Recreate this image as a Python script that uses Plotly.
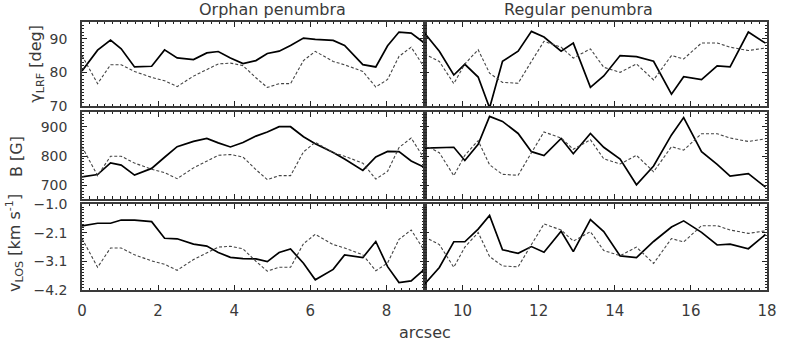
import plotly.graph_objects as go

# positions along the cuts [arcsec]
x_orphan = [0.00, 0.41, 0.75, 1.03, 1.38, 1.83, 2.17, 2.50, 2.93, 3.28, 3.58, 3.90, 4.23, 4.57,
            4.87, 5.18, 5.48, 5.82, 6.13, 6.60, 6.90, 7.38, 7.72, 8.03, 8.33, 8.65, 8.98]
x_regular = [9.00, 9.39, 9.77, 10.06, 10.41, 10.71, 11.05, 11.46, 11.81, 12.14, 12.59, 12.91,
             13.36, 13.71, 14.14, 14.57, 15.02, 15.49, 15.81, 16.28, 16.69, 17.03, 17.51, 17.96]

# inclination in local reference frame [deg]
gamma_orphan = [80.4, 86.6, 89.6, 87.0, 81.6, 81.8, 86.7, 84.3, 83.8, 85.8, 86.2, 84.3, 82.6, 83.5,
                85.6, 86.3, 88.0, 90.2, 89.8, 89.5, 88.0, 82.3, 81.6, 87.9, 92.0, 91.7, 88.9]
gamma_regular = [91.7, 86.3, 79.2, 82.4, 78.6, 69.4, 83.3, 86.3, 92.2, 90.5, 86.3, 88.7,
                 75.5, 78.9, 85.0, 84.7, 83.3, 73.5, 78.7, 77.8, 81.9, 81.6, 92.0, 88.7]

# field strength [G]
b_orphan = [729, 737, 777, 769, 735, 758, 796, 832, 850, 860, 845, 831, 846, 868,
            882, 900, 900, 866, 842, 812, 790, 751, 797, 816, 815, 783, 763]
b_regular = [827, 829, 830, 785, 840, 935, 918, 877, 815, 802, 860, 808,
             877, 830, 790, 702, 766, 872, 931, 815, 772, 732, 740, 694]

# LOS velocity [km/s]
v_orphan = [-1.81, -1.71, -1.71, -1.59, -1.59, -1.65, -2.27, -2.29, -2.49, -2.56, -2.80, -2.98, -3.03, -3.04,
            -3.14, -2.80, -2.67, -3.20, -3.82, -3.43, -2.89, -2.99, -2.39, -3.33, -3.92, -3.86, -3.45]
v_regular = [-3.98, -3.36, -2.40, -2.40, -1.93, -1.42, -2.70, -2.83, -2.58, -2.79, -2.01, -2.77,
             -1.57, -2.02, -2.93, -2.99, -2.39, -1.85, -1.62, -2.05, -2.52, -2.49, -2.66, -2.13]

# continuum intensity (dashed), normalised to the panel height
ic_orphan = [0.60, 0.265, 0.49, 0.49, 0.41, 0.34, 0.30, 0.23, 0.355, 0.43, 0.50, 0.51, 0.48, 0.335,
             0.22, 0.265, 0.265, 0.54, 0.65, 0.53, 0.49, 0.41, 0.225, 0.315, 0.59, 0.70, 0.47]
ic_regular = [0.62, 0.53, 0.265, 0.50, 0.67, 0.39, 0.28, 0.27, 0.53, 0.77, 0.70, 0.57,
              0.68, 0.46, 0.40, 0.50, 0.31, 0.60, 0.56, 0.75, 0.75, 0.70, 0.66, 0.69]

gamma_ticks = [70, 80, 90]
b_ticks = [700, 800, 900]
v_ticks = [-4.2, -3.1333, -2.0667, -1.0]
v_ticklabels = ['\u22124.2', '\u22123.1', '\u22122.1', '\u22121.0']
x_ticks_orphan = [0, 2, 4, 6, 8]
x_ticks_regular = [10, 12, 14, 16, 18]

font = 'DejaVu Sans'
ink = '#3a3a3a'
tick_ink = '#222222'

rows = [
    dict(left=gamma_orphan, right=gamma_regular, yr=[70, 95], tv=gamma_ticks,
         tt=[str(t) for t in gamma_ticks], mtick0=70, mdtick=1, dom=[0.687, 1.0]),
    dict(left=b_orphan, right=b_regular, yr=[655, 950], tv=b_ticks,
         tt=[str(t) for t in b_ticks], mtick0=700, mdtick=10, dom=[0.341, 0.664]),
    dict(left=v_orphan, right=v_regular, yr=[-4.2, -1.0], tv=v_ticks,
         tt=v_ticklabels, mtick0=-4.2, mdtick=0.106667, dom=[0.0, 0.32]),
]
cols = [
    dict(x=x_orphan, ic=ic_orphan, xr=[0, 9], tv=x_ticks_orphan, key='left', dom=[0.0, 0.5]),
    dict(x=x_regular, ic=ic_regular, xr=[9, 18], tv=x_ticks_regular, key='right', dom=[0.5, 1.0]),
]

fig = go.Figure()
layout = {}

for r, row in enumerate(rows):
    for c, col in enumerate(cols):
        k = 2 * r + c + 1
        k2 = k + 6
        xa = 'x' if k == 1 else 'x%d' % k
        ya = 'y' if k == 1 else 'y%d' % k
        ya2 = 'y%d' % k2

        fig.add_trace(go.Scatter(
            x=col['x'], y=row[col['key']], xaxis=xa, yaxis=ya,
            mode='lines', line=dict(color='black', width=1.7),
            showlegend=False, hoverinfo='skip'))
        fig.add_trace(go.Scatter(
            x=col['x'], y=col['ic'], xaxis=xa, yaxis=ya2,
            mode='lines', line=dict(color='#444444', width=1.1, dash='3px,2px'),
            showlegend=False, hoverinfo='skip'))

        layout['xaxis' if k == 1 else 'xaxis%d' % k] = dict(
            domain=col['dom'], range=col['xr'], anchor=ya,
            tickmode='array', tickvals=col['tv'], showticklabels=(r == 2),
            ticks='inside', ticklen=5, tickwidth=1, tickcolor=tick_ink,
            minor=dict(tickmode='linear', ticks='inside', ticklen=2.5, tick0=0, dtick=0.2,
                       tickcolor=tick_ink, tickwidth=1),
            showline=True, linecolor=ink, linewidth=1.5, mirror='ticks',
            showgrid=False, zeroline=False, ticklabelstandoff=6,
            tickfont=dict(family=font, size=15, color=ink))
        layout['yaxis' if k == 1 else 'yaxis%d' % k] = dict(
            domain=row['dom'], range=row['yr'], anchor=xa,
            tickmode='array', tickvals=row['tv'], ticktext=row['tt'],
            showticklabels=(c == 0),
            ticks='inside', ticklen=5, tickwidth=1, tickcolor=tick_ink,
            minor=dict(tickmode='linear', ticks='inside', ticklen=2.5, tick0=row['mtick0'],
                       dtick=row['mdtick'], tickcolor=tick_ink, tickwidth=1),
            showline=True, linecolor=ink, linewidth=1.5, mirror='ticks',
            showgrid=False, zeroline=False, ticklabelstandoff=10,
            tickfont=dict(family=font, size=14, color=ink))
        layout['yaxis%d' % k2] = dict(
            overlaying=ya, anchor=xa, range=[0, 1], visible=False)

fig.update_layout(**layout)

txt = dict(family=font, size=16, color=ink)
annotations = [
    dict(text='Orphan penumbra', x=0.2777, y=1.045, textangle=0),
    dict(text='Regular penumbra', x=0.7245, y=1.045, textangle=0),
    dict(text='arcsec', x=0.5007, y=-0.160, textangle=0),
    dict(text='\u03b3<sub>LRF</sub> [deg]', x=-0.0676, y=0.843, textangle=-90),
    dict(text='B [G]', x=-0.0964, y=0.50, textangle=-90),
    dict(text='v<sub>LOS</sub> [km s<sup>-1</sup>]', x=-0.0993, y=0.175, textangle=-90),
]
for a in annotations:
    fig.add_annotation(xref='paper', yref='paper', showarrow=False,
                       xanchor='center', yanchor='middle', font=txt, **a)

fig.update_layout(
    width=789, height=342,
    margin=dict(l=82, r=12, t=22, b=52),
    paper_bgcolor='white', plot_bgcolor='white',
    showlegend=False)

# drop the browser's default body margin so the figure sits at the page corner
fig.write_html('out.html', config={'displayModeBar': False},
               post_script="document.body.style.margin = '0';")
